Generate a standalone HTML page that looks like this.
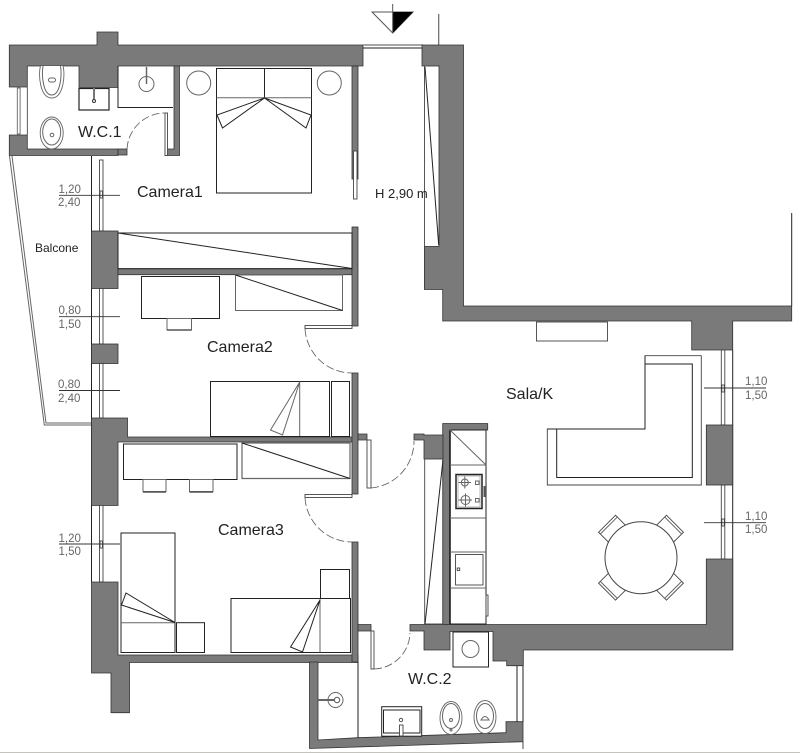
<!DOCTYPE html>
<html><head><meta charset="utf-8"><style>
html,body{margin:0;padding:0;background:#fff}
svg{display:block}
text{font-family:"Liberation Sans",sans-serif;fill:#222}
.w{fill:#7a7a7a;stroke:#333;stroke-width:.8}
.l{fill:none;stroke:#222;stroke-width:1}
.f{fill:#fff;stroke:#222;stroke-width:1}
.g{fill:none;stroke:#666;stroke-width:1}
.h{fill:#fff;stroke:#444;stroke-width:.9}
.s{fill:#fff;stroke:#666;stroke-width:.9}
.d{fill:none;stroke:#555;stroke-width:.8;stroke-dasharray:8 3}
.n{fill:#666;font-size:11.5px}
</style></head><body>
<svg width="800" height="753" viewBox="0 0 800 753" xmlns="http://www.w3.org/2000/svg">
<rect width="800" height="753" fill="#fff"/>
<rect x="0" y="752" width="800" height="1" fill="#c4c4bc"/>

<!-- north arrow -->
<path d="M372 12H413L392.700 33Z" fill="#fff" stroke="#555"/>
<path d="M392.700 12H413L392.700 33Z" fill="#000"/>
<path d="M392.700 4V33" stroke="#555"/>
<path d="M438.700 14V45" stroke="#666" stroke-width="1.200"/>

<!-- balcony -->
<path d="M9.500 156L44.300 425H91.500M12 156L46 423H91.500" class="g" stroke-width=".9"/>
<path d="M91.500 156V582" class="l"/>

<!-- walls top left -->
<path class="w" d="M9.300 45H97V32H118V45H363V66H118V87.500H79V66H27.300V149H118V155.500H9.300V135H27.300V87H9.300Z"/>
<rect class="w" x="118" y="149" width="9" height="6"/>
<path class="w" d="M174 66H179.500V155.500H165V149H174Z"/>
<path class="l" d="M118 66V107.500H173"/>
<rect class="h" x="165" y="113" width="2.500" height="42.500"/>
<path class="d" d="M127 149A38 38 0 0 1 165 113"/>
<rect class="w" x="352" y="66" width="6" height="113"/>
<rect class="h" x="353.500" y="151" width="3.500" height="48"/>

<!-- roof lines -->
<path d="M363 45H423" stroke="#888" stroke-width="1.500"/>
<path d="M363 48H423" stroke="#222"/>

<!-- wc1 fixtures -->
<path class="s" d="M40.500 66C38 75 40 98 51.700 98C63.500 98 65.500 75 63 66"/>
<path class="g" d="M43 66C41.500 75 43 95 51.700 95C60.500 95 62 75 60.500 66" stroke="#888"/>
<rect class="g" x="48.500" y="78" width="7" height="4" rx="2"/>
<ellipse class="s" cx="51.700" cy="133" rx="11.500" ry="16"/>
<ellipse class="g" cx="51.700" cy="132" rx="9" ry="13" stroke="#888"/>
<circle class="g" cx="52" cy="135" r="1.800"/>
<rect x="79" y="88.500" width="30" height="21.500" fill="#fff" stroke="#222" stroke-width="1.200"/>
<path d="M94 88V99" stroke="#777" stroke-width="2"/><circle cx="94" cy="101" r="1.500" fill="#fff" stroke="#333"/>
<circle class="g" cx="146.500" cy="84" r="7.500"/>
<path d="M146.500 67V84" stroke="#666" stroke-width="1.500"/>
<!-- wc1 window -->
<rect class="s" x="17.300" y="88" width="2.800" height="46"/>

<!-- bed 1 -->
<rect class="f" x="216.500" y="68.500" width="95" height="124.500"/>
<path class="l" d="M264.500 68.500V98"/>
<path class="g" d="M216.500 97.700H311.500"/>
<path class="f" d="M264.500 98L217 115L222.500 128Z"/>
<path class="f" d="M264.500 98L311 115L306 128Z"/>
<circle class="g" cx="198.700" cy="83" r="12"/>
<circle class="g" cx="329.300" cy="83" r="12"/>

<!-- left windows -->
<rect class="h" x="99.500" y="160" width="3.500" height="71"/>
<rect class="h" x="100" y="191" width="2.500" height="7"/>
<rect class="h" x="99.500" y="288" width="3.500" height="56"/>
<rect class="h" x="99.500" y="363" width="3.500" height="55"/>
<rect class="h" x="99.500" y="505" width="3.500" height="77"/>
<rect class="h" x="100" y="541" width="2.500" height="7"/>

<!-- left walls -->
<rect class="w" x="91.500" y="231" width="26.500" height="57.500"/>
<rect class="w" x="91.500" y="344" width="26.500" height="19.500"/>
<path class="w" d="M91.500 418H127.500V437H352V442H118V505.500H91.500Z"/>
<path class="w" d="M91.500 582H118V655H358V662.500H129.500V712.700H111V673H91.500Z"/>
<rect class="w" x="118" y="268.700" width="234" height="6"/>

<!-- right partition -->
<rect class="w" x="352" y="227" width="6" height="99"/>
<rect class="w" x="352" y="373" width="6" height="121"/>
<rect class="w" x="352" y="542" width="6" height="120"/>
<path class="w" d="M358 434H367V440H358Z"/>
<rect class="h" x="367" y="440" width="4" height="48"/>
<path class="d" d="M371 488A47 47 0 0 0 414 441"/>
<path class="w" d="M358 624.500H371V631H358Z"/>
<rect class="h" x="371" y="631" width="3" height="38"/>
<path class="d" d="M374 669A37 37 0 0 0 410 633"/>

<!-- doors -->
<rect class="h" x="305" y="325.500" width="47" height="3"/>
<path class="d" d="M305 329A47 47 0 0 0 352 373"/>
<rect class="h" x="305" y="494.500" width="47" height="3"/>
<path class="d" d="M305 498A47 47 0 0 0 352 542"/>

<!-- wardrobe 1 -->
<rect class="l" x="118" y="233" width="234" height="35.700"/>
<path class="l" d="M118 233L352 268.500" stroke="#444"/>

<!-- camera 2 -->
<rect class="f" x="141.500" y="276.500" width="78" height="42"/>
<rect class="g" x="167" y="318.500" width="24.500" height="11.500"/>
<path d="M167 330H191.500" stroke="#555" stroke-width="1.500"/>
<path d="M235.500 275H342.500V310.500H235.500Z" fill="none" stroke="#666"/>
<path class="l" d="M235.500 275L342.500 310.500" stroke="#444"/>
<rect class="f" x="210.500" y="381.500" width="119" height="55"/>
<rect class="f" x="331.500" y="381.500" width="18" height="55"/>
<path class="g" d="M299.700 381.500V436"/>
<path class="g" d="M299.700 382L270.500 430L282.500 435Z" stroke="#444"/>

<!-- camera 3 -->
<rect class="f" x="123.500" y="444" width="113.500" height="35.500"/>
<rect class="g" x="143" y="479.500" width="23" height="12"/>
<rect class="g" x="189.500" y="479.500" width="23.500" height="12"/>
<path d="M143 492H166M189.500 492H213" stroke="#555" stroke-width="1.500"/>
<path d="M242 443H350V478.500H242Z" fill="none" stroke="#666" stroke-width="1.200"/>
<path class="l" d="M242 443L350 478.500" stroke="#444"/>
<rect class="f" x="121" y="533" width="54" height="119.500"/>
<path class="g" d="M121 622.700H175" stroke="#999"/>
<rect class="f" x="176.500" y="622.700" width="28" height="29.800"/>
<path class="f" d="M175 622.500L126 593L121.500 605Z"/>
<rect class="f" x="231" y="598.500" width="119.500" height="54"/>
<path class="g" d="M320 598.500V652.500" stroke="#999"/>
<rect class="f" x="320.500" y="569.500" width="29" height="29"/>
<path class="f" d="M320 600L290.500 647L302.500 652Z"/>

<!-- wc2 -->
<path class="w" d="M309.500 662H318V740L358 737.700L506 732.700V721.700H523V741.700L309.500 748.500Z"/>
<path class="l" d="M358 662V738" stroke="#555"/>
<path d="M523 741V749" stroke="#444"/>
<circle class="g" cx="335.500" cy="700" r="7.500"/>
<path d="M318 700H337" stroke="#666" stroke-width="2"/>
<circle cx="337" cy="700" r="2.700" fill="#fff" stroke="#555"/>
<rect class="f" x="381.700" y="706.700" width="40" height="29.500" stroke="#333"/>
<path class="l" d="M383.500 733H420V710H383.500Z"/>
<rect class="h" x="399.500" y="725" width="3.500" height="11"/>
<circle class="h" cx="401" cy="720" r="1.700"/>
<ellipse class="s" cx="451" cy="718" rx="11" ry="16.500"/>
<ellipse class="g" cx="451" cy="716" rx="8.500" ry="12.500" stroke="#888"/>
<circle class="g" cx="451" cy="720" r="1.500"/><circle class="g" cx="451" cy="730" r="1"/>
<ellipse class="s" cx="485" cy="717" rx="11" ry="16.500"/>
<ellipse class="g" cx="485" cy="716" rx="8.500" ry="12.500" stroke="#888"/>
<path class="g" d="M481 720Q485 713 489 720Z"/>
<path class="l" d="M517 666V722M523 666V722" stroke="#444"/>

<!-- central right wall -->
<path class="w" d="M422 45H463.500V306H791.700V321H732.700V350H691.700V321H442.700V289.500H424.400V246.500H439V66H422Z"/>
<rect class="h" x="424.500" y="66" width="14.500" height="180.500"/>
<path class="l" d="M425 67L438.700 245" stroke="#444" stroke-width=".9"/>
<path class="l" d="M791.700 213V306"/>
<rect class="h" x="536.500" y="322" width="71" height="19"/>

<!-- sofa -->
<path class="h" d="M645 355.700H701.300V485H547.300V429H645Z"/>
<path class="l" d="M645 364H692.300V477.500H556.700V429" stroke="#444"/>
<path class="l" d="M645 355.700V429H547.300" stroke="#222"/>

<!-- right windows -->
<path class="l" d="M732.700 350V650"/>
<rect class="h" x="721.300" y="350" width="3.500" height="75"/>
<rect class="h" x="721.800" y="385" width="2.500" height="7"/>
<rect class="h" x="721.300" y="485" width="3.500" height="74"/>
<rect class="h" x="721.800" y="519" width="2.500" height="7"/>
<rect class="w" x="706.300" y="425" width="26.400" height="60"/>

<!-- lower wall -->
<path class="w" d="M706.300 559H732.700V650H523.300V665.700H506.700V661H493V631.500H450V650H424V631H410V624.500H706.300Z"/>
<rect class="f" x="453" y="632" width="35.500" height="35"/>
<circle class="g" cx="470.500" cy="649" r="8.500"/>

<!-- kitchen -->
<path class="w" d="M442.700 423.500H487.700V430H450V624.500H442.700Z"/>
<path d="M450 430V624" stroke="#111" stroke-width="1.500"/>
<path class="w" d="M414 434H424V435H443V459H424V440H414Z"/>
<rect class="h" x="424.700" y="459" width="18" height="165"/>
<path class="l" d="M443 460L425 624" stroke="#444" stroke-width=".9"/>
<path class="l" d="M450 430H486V624H450" stroke="#444"/>
<path class="l" d="M450 624H486" stroke-width="1.500"/>
<path class="g" d="M450 430L486 465M450 465H486M450 518H486M450 552H486M450 588H486"/>
<rect x="456" y="474.500" width="26" height="34" fill="#fff" stroke="#222" stroke-width="1.500"/>
<rect x="458" y="476" width="22" height="31" fill="none" stroke="#999" stroke-width=".7"/>
<circle class="g" cx="464.800" cy="482.500" r="3.500"/><path class="g" d="M458.500 482.500H471M464.800 476.500V488.500" stroke-width=".6"/>
<circle class="g" cx="465.500" cy="500" r="4.500"/><path class="g" d="M458.500 500H472M465.500 493.500V506.500" stroke-width=".6"/>
<rect class="g" x="475.500" y="481" width="3.500" height="3.500"/>
<rect class="g" x="475.500" y="498.500" width="3.500" height="3.500"/>
<rect x="483.500" y="486" width="2.500" height="11" fill="#555"/>
<rect class="h" x="455.500" y="554.500" width="27.500" height="30.500"/>
<rect class="h" x="457.200" y="568" width="2.500" height="2.500"/>
<rect class="h" x="486" y="595" width="2" height="21"/>

<!-- table -->
<g transform="translate(641 557.700)">
<g transform="rotate(45)"><rect class="h" x="-12" y="-48" width="24" height="16"/><path class="g" d="M-12 -45.500H12" stroke-width=".8"/></g>
<g transform="rotate(135)"><rect class="h" x="-12" y="-48" width="24" height="16"/><path class="g" d="M-12 -45.500H12" stroke-width=".8"/></g>
<g transform="rotate(225)"><rect class="h" x="-12" y="-48" width="24" height="16"/><path class="g" d="M-12 -45.500H12" stroke-width=".8"/></g>
<g transform="rotate(315)"><rect class="h" x="-12" y="-48" width="24" height="16"/><path class="g" d="M-12 -45.500H12" stroke-width=".8"/></g>
<circle r="36" fill="#fff" stroke="#444"/>
</g>

<!-- dimension ticks -->
<path d="M59 195.300H120M59 316.700H120M59 390.500H120M59 544H120M704 388H766M704 522.700H766" stroke="#333" stroke-width=".9"/>

<!-- labels -->
<text x="78" y="137" font-size="16">W.C.1</text>
<text x="137" y="197" font-size="16">Camera1</text>
<text x="207" y="352" font-size="16">Camera2</text>
<text x="218" y="535" font-size="16">Camera3</text>
<text x="506" y="399" font-size="16">Sala/K</text>
<text x="408" y="684" font-size="16">W.C.2</text>
<text x="35" y="252" font-size="12">Balcone</text>
<text x="375" y="198" font-size="13">H 2,90 m</text>
<text class="n" x="58.500" y="193">1,20</text><text class="n" x="58" y="206">2,40</text>
<text class="n" x="58.500" y="314">0,80</text><text class="n" x="58.500" y="328">1,50</text>
<text class="n" x="58" y="388">0,80</text><text class="n" x="58" y="402">2,40</text>
<text class="n" x="58.500" y="542">1,20</text><text class="n" x="58.500" y="555">1,50</text>
<text class="n" x="745" y="385">1,10</text><text class="n" x="745" y="399">1,50</text>
<text class="n" x="745" y="520">1,10</text><text class="n" x="745" y="533">1,50</text>
</svg>
</body></html>
